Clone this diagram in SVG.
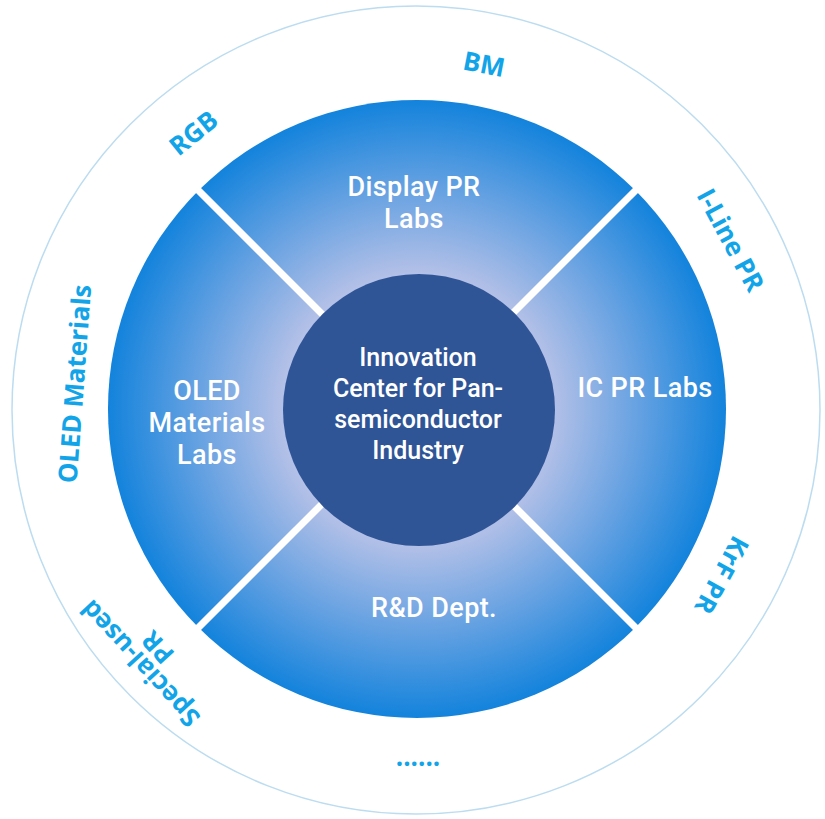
<svg xmlns="http://www.w3.org/2000/svg" width="825" height="819" viewBox="0 0 825 819">
<defs>
<radialGradient id="g" gradientUnits="userSpaceOnUse" cx="417" cy="409" r="309">
<stop offset="0.44" stop-color="#b3c0e7"/>
<stop offset="0.7" stop-color="#6aa3e2"/>
<stop offset="1" stop-color="#1383dc"/>
</radialGradient>
<style>
.q{fill:url(#g)}
.sep{stroke:#ffffff;stroke-width:7;fill:none}
.in{font-family:Roboto,"Liberation Sans",sans-serif;font-weight:500;font-size:27px;letter-spacing:0.4px;fill:#ffffff;text-anchor:middle}
.ct{font-family:Roboto,"Liberation Sans",sans-serif;font-weight:500;font-size:25px;fill:#ffffff;text-anchor:middle}
.out{font-family:"Open Sans","Liberation Sans",sans-serif;font-weight:700;font-size:26px;fill:#12a4e8;text-anchor:middle}
</style>
</defs>
<rect width="825" height="819" fill="#ffffff"/>
<circle id="ring" cx="416" cy="410" r="404" fill="none" stroke="#bcdcf0" stroke-width="1.5"/>
<g id="display">
<path class="q" d="M417,409 L198.5,190.5 A309,309 0 0 1 635.5,190.5 Z"/>
<text class="in" x="414" y="196">Display PR</text>
<text class="in" x="414" y="228">Labs</text>
</g>
<g id="ic">
<path class="q" d="M417,409 L635.5,190.5 A309,309 0 0 1 635.5,627.5 Z"/>
<text class="in" x="645" y="397">IC PR Labs</text>
</g>
<g id="rd">
<path class="q" d="M417,409 L635.5,627.5 A309,309 0 0 1 198.5,627.5 Z"/>
<text class="in" x="434" y="617">R&amp;D Dept.</text>
</g>
<g id="oled">
<path class="q" d="M417,409 L198.5,627.5 A309,309 0 0 1 198.5,190.5 Z"/>
<text class="in" x="207" y="400">OLED</text>
<text class="in" x="207" y="432">Materials</text>
<text class="in" x="207" y="464">Labs</text>
</g>
<g id="separators">
<line class="sep" x1="417" y1="409" x2="196" y2="188"/>
<line class="sep" x1="417" y1="409" x2="638" y2="188"/>
<line class="sep" x1="417" y1="409" x2="638" y2="630"/>
<line class="sep" x1="417" y1="409" x2="196" y2="630"/>
</g>
<g id="center">
<circle cx="419" cy="410" r="136" fill="#2f5597"/>
<text class="ct" x="418" y="366">Innovation</text>
<text class="ct" x="418" y="397">Center for Pan-</text>
<text class="ct" x="418" y="428">semiconductor</text>
<text class="ct" x="418" y="459">Industry</text>
</g>
<g id="outer-labels">
<text class="out" x="417" y="67" transform="rotate(11 417 409)">BM</text>
<text class="out" x="417" y="63" transform="rotate(-39 417 409)">RGB</text>
<text class="out" x="417" y="62" transform="rotate(61.7 417 409)">I-Line PR</text>
<text class="out" x="417" y="71" transform="rotate(118.6 417 409)">KrF PR</text>
<text class="out" x="417" y="75" transform="rotate(-85.8 417 409)">OLED Materials</text>
<text class="out" x="417" y="42" transform="rotate(-132.6 417 409)">Special-used</text>
<text class="out" x="417" y="66" transform="rotate(-132.6 417 409)">PR</text>
<text class="out" x="418" y="766">......</text>
</g>
</svg>
